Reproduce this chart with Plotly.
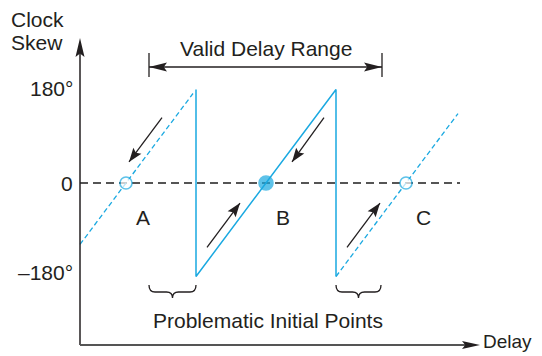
import numpy as np
import plotly.graph_objects as go

# delay in arbitrary units (one clock period = 140), clock skew in degrees
solid_delay = [116, 116, 256, 256]
solid_skew = [180, -180, 180, -180]

a_delay = [0, 113]
a_skew = [-118.3, 172.3]

c_delay = [256, 378]
c_skew = [-180, 133.7]

zero_delay = [0, 380]
zero_skew = [0, 0]

lock_names = ['A', 'B', 'C']
lock_delay = [46, 186, 326]
lock_skew = [0, 0, 0]
lock_filled = [False, True, False]

# direction arrows along the sawtooth
arrow_tail_delay = [82, 244, 127, 267]
arrow_tail_skew = [125.8, 125.8, -123.9, -123.9]
arrow_tip_delay = [49, 212, 160, 300]
arrow_tip_skew = [40.6, 40.6, -38.7, -38.7]

valid_range = [69, 302]
brace_ranges = [[69, 116], [256, 301]]

ytick_vals = [181, 0, -171.4]
ytick_text = ['180°', '0', '–180°']

# visible extent of the drawn axes
x_axis_end = 400
y_axis_bottom, y_axis_top = -311.9, 279.2

BLUE = '#1AA9E1'
INK = '#231F20'
FONT = 'Liberation Sans, Arial, sans-serif'

# page body has an 8px margin, so the figure is shrunk and shifted to match
PAGE_PAD = 8
W, H = 542 - 2 * PAGE_PAD, 356 - PAGE_PAD
px_x = 1.0           # pixels per delay unit
px_y = 0.5194        # pixels per degree
x_range = [-(80 - PAGE_PAD) / px_x, -(80 - PAGE_PAD) / px_x + W / px_x]
y_top = (183 - PAGE_PAD) / px_y
y_range = [y_top - H / px_y, y_top]


def head(x, y, angle, length, width, color=INK):
    a = np.radians(angle)
    pts = [(0, 0), (-length, width / 2), (-0.82 * length, 0), (-length, -width / 2)]
    rot = [(u * np.cos(a) - v * np.sin(a), u * np.sin(a) + v * np.cos(a)) for u, v in pts]
    path = 'M' + 'L'.join(f'{p:.2f},{q:.2f}' for p, q in rot) + 'Z'
    return dict(type='path', xref='x', yref='y', xsizemode='pixel', ysizemode='pixel',
                xanchor=x, yanchor=y, path=path, fillcolor=color, line=dict(width=0))


def brace(x0, x1, ytop, ymid, ytip, r=6):
    xm = (x0 + x1) / 2
    path = (f'M{x0},{ytop} Q{x0},{ymid} {x0 + r},{ymid} L{xm - r},{ymid} '
            f'Q{xm},{ymid} {xm},{ytip} Q{xm},{ymid} {xm + r},{ymid} '
            f'L{x1 - r},{ymid} Q{x1},{ymid} {x1},{ytop}')
    return dict(type='path', xref='x', yref='y', path=path, line=dict(color=INK, width=1.3))


fig = go.Figure()

# zero skew line
fig.add_trace(go.Scatter(x=zero_delay, y=zero_skew, mode='lines',
                         line=dict(color='#555555', width=1.8, dash='8px,5px')))
# dashed neighbours
fig.add_trace(go.Scatter(x=a_delay, y=a_skew, mode='lines',
                         line=dict(color=BLUE, width=1.3, dash='5px,3px')))
fig.add_trace(go.Scatter(x=c_delay, y=c_skew, mode='lines',
                         line=dict(color=BLUE, width=1.3, dash='5px,3px')))
# valid sawtooth
fig.add_trace(go.Scatter(x=solid_delay, y=solid_skew, mode='lines',
                         line=dict(color=BLUE, width=1.5)))
# lock points
fig.add_trace(go.Scatter(
    x=lock_delay, y=lock_skew, mode='markers',
    marker=dict(size=[14 if f else 12 for f in lock_filled],
                color=[BLUE if f else 'white' for f in lock_filled],
                line=dict(color=BLUE, width=1.6))))

shapes = []
annotations = []

# axes with arrowheads
shapes.append(dict(type='line', xref='x', yref='y', x0=0, x1=0, y0=y_axis_bottom, y1=y_axis_top - 15,
                   line=dict(color=INK, width=1.5)))
shapes.append(head(0, y_axis_top, 90, 19, 9))
shapes.append(dict(type='line', xref='x', yref='y', x0=0, x1=x_axis_end - 10,
                   y0=y_axis_bottom, y1=y_axis_bottom, line=dict(color='#555555', width=2.2)))
shapes.append(head(x_axis_end, y_axis_bottom, 0, 18, 8))

# direction arrows
for tx, ty, hx, hy in zip(arrow_tail_delay, arrow_tail_skew, arrow_tip_delay, arrow_tip_skew):
    ang = np.degrees(np.arctan2((hy - ty) * px_y, (hx - tx) * px_x))
    shapes.append(dict(type='line', xref='x', yref='y', x0=tx, y0=ty, x1=hx, y1=hy,
                       line=dict(color=INK, width=1.3)))
    shapes.append(head(hx, hy, ang, 14, 10))

# valid delay range
vr_y = 223.3
shapes.append(dict(type='line', xref='x', yref='y', x0=valid_range[0], x1=valid_range[1],
                   y0=vr_y, y1=vr_y, line=dict(color=INK, width=1.3)))
for xv in valid_range:
    shapes.append(dict(type='line', xref='x', yref='y', x0=xv, x1=xv, y0=204.1, y1=250.3,
                       line=dict(color=INK, width=1.3)))
shapes.append(head(valid_range[0], vr_y, 180, 18, 9))
shapes.append(head(valid_range[1], vr_y, 0, 18, 9))

# braces
for b0, b1 in brace_ranges:
    shapes.append(brace(b0, b1, -196.4, -209.9, -221.4))

txt = dict(family=FONT, size=21, color=INK)

for v, t in zip(ytick_vals, ytick_text):
    annotations.append(dict(x=0, y=v, xref='x', yref='y', text=t, showarrow=False,
                            xanchor='right', xshift=-5, font=txt))

for n, d in zip(lock_names, lock_delay):
    annotations.append(dict(x=d + 17, y=-66, xref='x', yref='y', text=n, showarrow=False, font=txt))

annotations += [
    dict(x=186, y=259.9, xref='x', yref='y', text='Valid Delay Range', showarrow=False, font=txt),
    dict(x=188, y=-263.8, xref='x', yref='y', text='Problematic Initial Points', showarrow=False, font=txt),
    dict(x=x_range[1], y=-306, xref='x', yref='y', text='Delay', showarrow=False, xanchor='right',
         font=dict(family=FONT, size=19, color=INK)),
    dict(x=-71, y=315, xref='x', yref='y', text='Clock', showarrow=False, xanchor='left', font=txt),
    dict(x=-71, y=270.5, xref='x', yref='y', text='Skew', showarrow=False, xanchor='left', font=txt),
]

fig.update_layout(
    width=W, height=H,
    margin=dict(l=0, r=0, t=0, b=0),
    paper_bgcolor='white', plot_bgcolor='white',
    showlegend=False,
    xaxis=dict(range=x_range, visible=False, fixedrange=True),
    yaxis=dict(range=y_range, visible=False, fixedrange=True),
    shapes=shapes,
    annotations=annotations,
)

fig.write_html("out.html")
